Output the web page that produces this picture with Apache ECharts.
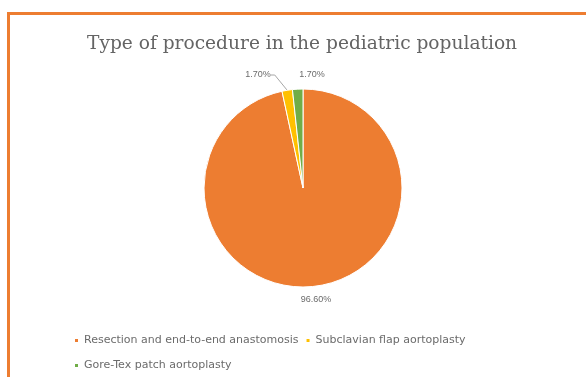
<!DOCTYPE html>
<html>
<head>
<meta charset="utf-8">
<script src="https://cdn.jsdelivr.net/npm/echarts@6/dist/echarts.min.js"></script>
<style>
    html, body { margin: 0; padding: 0; background: #fff; }
    #frame {
        position: absolute; left: 7px; top: 12px; width: 600px; height: 400px;
        border-left: 3px solid #ED7D31; border-top: 3px solid #ED7D31;
        box-sizing: border-box;
    }
    #chart { position: absolute; left: 0; top: 0; width: 586px; height: 377px; }
</style>
</head>
<body>
<div id="frame"></div>
<div id="chart"></div>
<script>
// 饼图数据
var categories = ['Resection and end-to-end anastomosis', 'Subclavian flap aortoplasty', 'Gore-Tex patch aortoplasty'];
var percents = [96.6, 1.7, 1.7];
var colors = ['#ED7D31', '#FFC000', '#70AD47'];

var dom = document.getElementById('chart');
var myChart = echarts.init(dom, null, {
    renderer: 'canvas',
    useDirtyRect: false
});

// where each percent label sits (text placement only)
var labelSpots = [[316, 300], [258, 75], [312, 75]];

var option;

option = {
    title: {
        text: 'Type of procedure in the pediatric population',
        left: 82,
        top: 30,
        textStyle: {
            fontFamily: 'DejaVu Serif',
            fontWeight: 'normal',
            fontSize: 18.6,
            color: '#646464'
        }
    },
    legend: {
        left: 68,
        top: 326,
        width: 430,
        itemWidth: 5,
        itemHeight: 5,
        itemGap: 6,
        icon: 'rect',
        textStyle: {
            fontSize: 11,
            lineHeight: 19,
            color: '#6b6b6b',
            fontFamily: 'DejaVu Sans'
        },
        data: categories
    },
    series: [
        {
            type: 'pie',
            center: [303, 188],
            radius: 99,
            startAngle: 90,
            clockwise: true,
            data: categories.map(function (c, i) {
                return {
                    name: c,
                    value: percents[i],
                    itemStyle: { color: colors[i] },
                    labelLine: { show: i === 1 }
                };
            }),
            itemStyle: { borderColor: '#fff', borderWidth: 1 },
            label: {
                show: true,
                position: 'outside',
                formatter: function (p) { return p.value.toFixed(2) + '%'; },
                fontSize: 9,
                color: '#6b6b6b',
                fontFamily: 'Liberation Sans'
            },
            labelLine: {
                length: 6,
                length2: 4,
                lineStyle: { color: '#a6a6a6', width: 1 }
            },
            labelLayout: function (p) {
                var s = labelSpots[p.dataIndex];
                return { x: s[0], y: s[1], align: 'center', verticalAlign: 'middle' };
            },
            emphasis: { scale: false }
        }
    ]
};

if (option && typeof option === 'object') {
    myChart.setOption(option);
}

window.addEventListener('resize', myChart.resize);
</script>
</body>
</html>
